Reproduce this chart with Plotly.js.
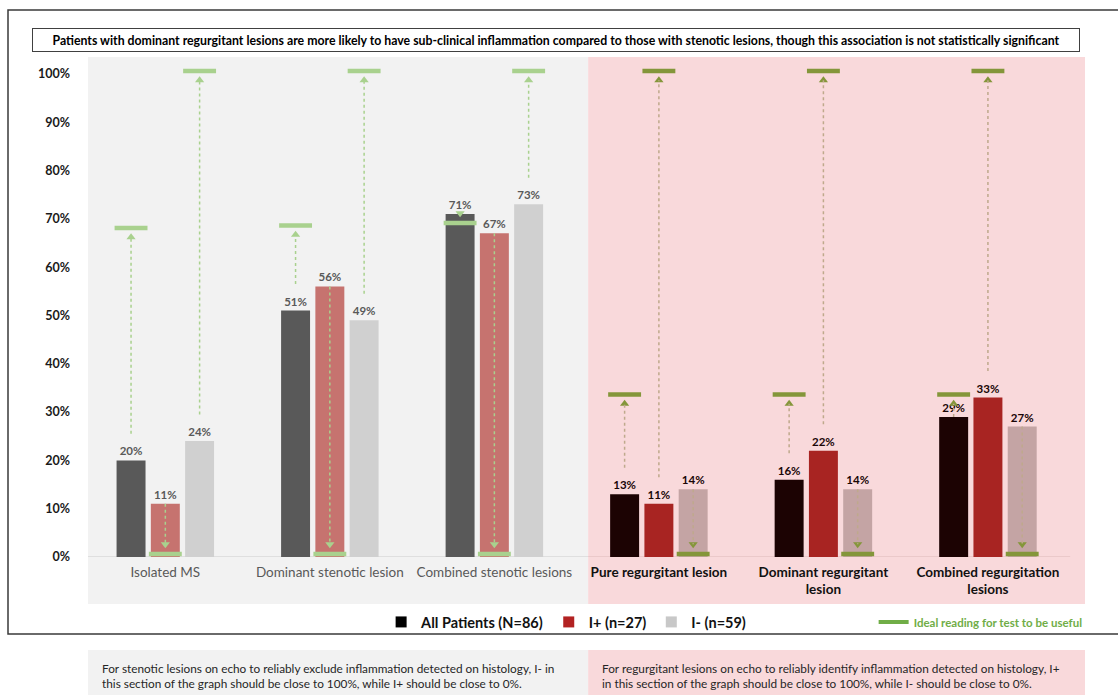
<!DOCTYPE html>
<html><head><meta charset="utf-8">
<script src="https://cdn.plot.ly/plotly-3.0.1.min.js"></script>
<style>html,body{margin:0;padding:0;background:#fff}#chart{width:1118px;height:695px}</style>
</head><body><div id="chart"></div>
<script>
// ---------------- data ----------------
const categories = ['Isolated MS', 'Dominant stenotic lesion', 'Combined stenotic lesions',
  'Pure regurgitant lesion', 'Dominant regurgitant lesion', 'Combined regurgitation lesions'];
const tickLabels = ['Isolated MS', 'Dominant stenotic lesion', 'Combined stenotic lesions',
  'Pure regurgitant lesion', 'Dominant regurgitant<br>lesion', 'Combined regurgitation<br>lesions'];
const sections = ['stenotic', 'stenotic', 'stenotic', 'regurgitant', 'regurgitant', 'regurgitant'];
const seriesNames = ['All Patients (N=86)', 'I+ (n=27)', 'I- (n=59)'];
const allPatients = [20, 51, 71, 13, 16, 29];
const iPlus       = [11, 56, 67, 11, 22, 33];
const iMinus      = [24, 49, 73, 14, 14, 27];
const idealAll    = [67.5, 68, 68.5, 33, 33, 33];
const idealIPlus  = [0, 0, 0, 100, 100, 100];
const idealIMinus = [100, 100, 100, 0, 0, 0];
const yTicks = [0, 10, 20, 30, 40, 50, 60, 70, 80, 90, 100];
const idealLegendName = 'Ideal reading for test to be useful';
const titleText = 'Patients with dominant regurgitant lesions are more likely to have sub-clinical inflammation compared to those with stenotic lesions, though this association is not statistically significant';
const noteStenotic = 'For stenotic lesions on echo to reliably exclude inflammation detected on histology, I- in<br>this section of the graph should be close to 100%, while I+ should be close to 0%.';
const noteRegurgitant = 'For regurgitant lesions on echo to reliably identify inflammation detected on histology, I+<br>in this section of the graph should be close to 100%, while I- should be close to 0%.';

// ---------------- style ----------------
const FONT = 'Lato, "Open Sans", sans-serif';
const BARGAP = 0.375, BARGROUPGAP = 0.155;
const X_RANGE = [-0.47, 5.59];
const SPLIT = 2.57;       // boundary between the two shaded sections (x units)
const Y_RANGE = [0, 103.5];
const styles = {
  stenotic:    {bars: ['#595959', '#C6736F', '#D0D0D0'], text: '#595959', mark: '#A9D18E', dash: '#A9D18E', head: '#A9D18E', label: '#595959', bold: false, bg: '#F2F2F2', axis: '#D9D9D9'},
  regurgitant: {bars: ['#1C0303', '#A82422', '#C4A4A4'], text: '#1A0606', mark: '#84963A', dash: '#BFA98C', head: '#84963A', label: '#111111', bold: true, bg: '#F9D9DB', axis: '#E6C3C5'}
};
const legendColors = ['#000000', '#B22222', '#C8C8C8'];

const values = [allPatients, iPlus, iMinus];
const ideals = [idealAll, idealIPlus, idealIMinus];
const xIdx = categories.map((_, i) => i);
const slot = (1 - BARGAP) / 3;
const offsets = [-slot, 0, slot];

const traces = values.map((vals, s) => ({
  type: 'bar', x: xIdx, y: vals, name: seriesNames[s], showlegend: false,
  marker: {color: sections.map(sec => styles[sec].bars[s])},
  text: vals.map(v => v + '%'), textposition: 'outside',
  textfont: {family: FONT, size: 11.5, weight: 'bold', color: sections.map(sec => styles[sec].text)},
  cliponaxis: false, constraintext: 'none', hoverinfo: 'skip'
}));

// ideal markers, dashed guides and arrow heads
const shapes = [];
const headX = [], headY = [], headSym = [], headCol = [];
const PX = (Y_RANGE[1] - Y_RANGE[0]) / 500; // data units per pixel
values.forEach((vals, s) => {
  vals.forEach((v, i) => {
    const st = styles[sections[i]];
    const cx = i + offsets[s];
    const target = ideals[s][i];
    shapes.push({type: 'line', xref: 'x', yref: 'y', x0: cx - 0.1, x1: cx + 0.1, y0: target + 3 * PX, y1: target + 3 * PX,
      line: {color: st.mark, width: 4.5}, layer: 'above'});
    let start, tip;
    if (target > v) {
      start = (target - v > 8) ? v + 5.5 : v;
      tip = target - 1.3;
      headSym.push('triangle-up');
    } else {
      start = v;
      tip = target + 1.6 + 5 * PX;
      headSym.push('triangle-down');
    }
    headX.push(cx); headY.push(tip); headCol.push(st.head);
    shapes.push({type: 'line', xref: 'x', yref: 'y', x0: cx, x1: cx, y0: start, y1: tip,
      line: {color: st.dash, width: 1.5, dash: '3px,3px'}, layer: 'above'});
  });
});
traces.push({type: 'scatter', mode: 'markers', x: headX, y: headY, showlegend: false, hoverinfo: 'skip', cliponaxis: false,
  marker: {symbol: headSym, color: headCol, size: 8, line: {width: 0}}});

// legend-only entries
seriesNames.forEach((n, s) => traces.push({type: 'scatter', mode: 'markers', x: [null], y: [null], name: n,
  marker: {symbol: 'square', size: 11, color: legendColors[s]}, hoverinfo: 'skip'}));
traces.push({type: 'scatter', mode: 'lines', x: [null], y: [null], name: idealLegendName, legend: 'legend2',
  line: {color: '#70AD47', width: 4}, hoverinfo: 'skip'});

// backgrounds
const bgBottom = -(604 - 557) / 500, bgTop = 1;
shapes.unshift(
  {type: 'rect', xref: 'x', yref: 'paper', x0: X_RANGE[0], x1: SPLIT, y0: bgBottom, y1: bgTop, fillcolor: styles.stenotic.bg, line: {width: 0}, layer: 'below'},
  {type: 'rect', xref: 'x', yref: 'paper', x0: SPLIT, x1: X_RANGE[1], y0: bgBottom, y1: bgTop, fillcolor: styles.regurgitant.bg, line: {width: 0}, layer: 'below'},
  {type: 'line', xref: 'x', yref: 'y', x0: X_RANGE[0], x1: SPLIT, y0: 0, y1: 0, line: {color: styles.stenotic.axis, width: 1.5}, layer: 'below'},
  {type: 'line', xref: 'x', yref: 'y', x0: SPLIT, x1: 5.5, y0: 0, y1: 0, line: {color: styles.regurgitant.axis, width: 1.5}, layer: 'below'},
  // note boxes
  {type: 'rect', xref: 'x', yref: 'paper', x0: X_RANGE[0], x1: SPLIT, y0: -0.4, y1: -(650 - 557) / 500, fillcolor: styles.stenotic.bg, line: {width: 0}, layer: 'below'},
  {type: 'rect', xref: 'x', yref: 'paper', x0: SPLIT, x1: X_RANGE[1], y0: -0.4, y1: -(650 - 557) / 500, fillcolor: styles.regurgitant.bg, line: {width: 0}, layer: 'below'},
  // outer frame
  {type: 'rect', xref: 'paper', yref: 'paper', x0: (8 - 88) / 997, x1: 1.06, y0: -(634 - 557) / 500, y1: 1 + (57 - 10) / 500, line: {color: '#3A3A3A', width: 1.5}, fillcolor: 'rgba(0,0,0,0)', layer: 'below'}
);

const tickText = tickLabels.map((t, i) => {
  const st = styles[sections[i]];
  const inner = st.bold ? '<b>' + t + '</b>' : t;
  return '<span style="color:' + st.label + '">' + inner + '</span>';
});

const annotations = [
  {xref: 'paper', yref: 'paper', x: (556 - 88) / 997, y: 1 + (57 - 40) / 500, xanchor: 'center', yanchor: 'middle',
   text: '<b>' + titleText + '</b>', showarrow: false, font: {family: FONT, size: 12.3, color: '#000'},
   bordercolor: '#404040', borderwidth: 1, borderpad: 3, bgcolor: '#fff', width: 1040, height: 16},
  {xref: 'x', yref: 'paper', x: X_RANGE[0] + 12 / 164.5, y: -(675.5 - 557) / 500, xanchor: 'left', yanchor: 'middle', align: 'left',
   text: noteStenotic, showarrow: false, font: {family: FONT, size: 11.8, color: '#262626'}},
  {xref: 'x', yref: 'paper', x: SPLIT + 12 / 164.5, y: -(675.5 - 557) / 500, xanchor: 'left', yanchor: 'middle', align: 'left',
   text: noteRegurgitant, showarrow: false, font: {family: FONT, size: 11.8, color: '#262626'}}
];

const layout = {
  width: 1118, height: 695,
  margin: {l: 88, r: 33, t: 57, b: 138, pad: 0},
  paper_bgcolor: '#ffffff', plot_bgcolor: 'rgba(0,0,0,0)',
  font: {family: FONT},
  barmode: 'group', bargap: BARGAP, bargroupgap: BARGROUPGAP,
  xaxis: {type: 'linear', range: X_RANGE, tickmode: 'array', tickvals: xIdx, ticktext: tickText,
    showgrid: false, zeroline: false, showline: false, ticks: '', ticklabelstandoff: 5,
    tickfont: {family: FONT, size: 13.5, color: '#595959'}, fixedrange: true},
  yaxis: {range: Y_RANGE, tickmode: 'array', tickvals: yTicks, ticktext: yTicks.map(v => '<b>' + v + '%</b>'),
    showgrid: false, zeroline: false, showline: false, ticks: '', ticklabelstandoff: 17,
    tickfont: {family: FONT, size: 12.5, color: '#1A1A1A'}, fixedrange: true},
  showlegend: true,
  legend: {orientation: 'h', x: 0.294, xanchor: 'left', y: -(622 - 557) / 500, yanchor: 'middle',
    font: {family: FONT, size: 14.5, weight: 'bold', color: '#111'}, bgcolor: 'rgba(0,0,0,0)', itemwidth: 30, traceorder: 'normal'},
  legend2: {orientation: 'h', x: 0.788, xanchor: 'left', y: -(622 - 557) / 500, yanchor: 'middle',
    font: {family: FONT, size: 11.5, weight: 'bold', color: '#70AD47'}, bgcolor: 'rgba(0,0,0,0)', itemwidth: 30},
  shapes: shapes, annotations: annotations, hovermode: false
};

Plotly.newPlot('chart', traces, layout, {staticPlot: true, displayModeBar: false});
</script>
</body></html>
